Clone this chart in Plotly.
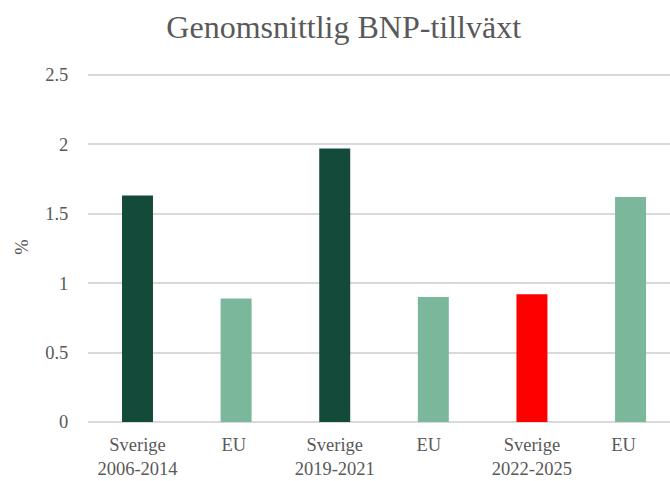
import plotly.graph_objects as go

categories = ["Sverige<br>2006-2014", "EU ", "Sverige<br>2019-2021", "EU  ", "Sverige<br>2022-2025", "EU   "]
values = [1.63, 0.89, 1.97, 0.90, 0.92, 1.62]
bar_colors = ["#134A3A", "#7BB79A", "#134A3A", "#7BB79A", "#FF0000", "#7BB79A"]
y_ticks = [0, 0.5, 1, 1.5, 2, 2.5]
y_tick_labels = ["0", "0.5", "1", "1.5", "2", "2.5"]

font_family = "Liberation Serif"
text_color = "#595959"

fig = go.Figure(
    go.Bar(
        x=categories,
        y=values,
        marker=dict(color=bar_colors, line=dict(width=0)),
        width=0.314,
        hoverinfo="skip",
    )
)

fig.update_layout(
    width=670,
    height=481,
    paper_bgcolor="white",
    plot_bgcolor="white",
    margin=dict(l=88, r=0, t=72.2, b=58.5),
    showlegend=False,
    title=dict(
        text="Genomsnittlig BNP-tillväxt",
        x=0.513,
        xanchor="center",
        y=0.945,
        yanchor="middle",
        font=dict(family=font_family, size=32, color=text_color),
    ),
    font=dict(family=font_family, color=text_color, size=18),
)

fig.update_xaxes(
    type="category",
    range=[-0.502, 5.40],
    showgrid=False,
    showline=False,
    zeroline=False,
    ticks="outside",
    ticklen=6,
    tickcolor="rgba(0,0,0,0)",
    tickfont=dict(family=font_family, size=18.5, color=text_color),
)

fig.update_yaxes(
    range=[0, 2.52],
    tickvals=y_ticks,
    ticktext=y_tick_labels,
    showgrid=True,
    gridcolor="#D9D9D9",
    gridwidth=1.5,
    zeroline=True,
    zerolinecolor="#D9D9D9",
    zerolinewidth=1.5,
    showline=False,
    ticks="outside",
    ticklen=15,
    tickcolor="rgba(0,0,0,0)",
    tickfont=dict(family=font_family, size=18.5, color=text_color),
    title=dict(text="%", font=dict(family=font_family, size=18.5, color=text_color), standoff=11),
)

fig.write_html(
    "out.html",
    config={"displayModeBar": False},
    post_script="document.body.style.margin='0';document.body.style.overflow='hidden';",
)
